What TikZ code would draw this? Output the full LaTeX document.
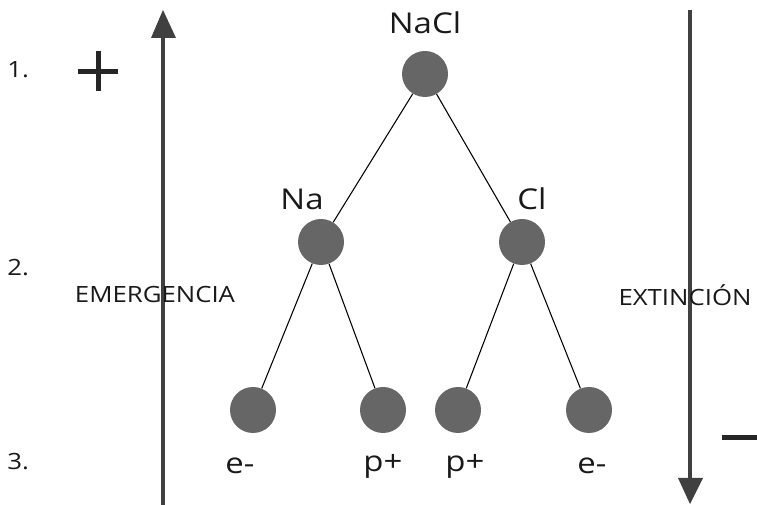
\documentclass[tikz,border=0pt]{standalone}
\usepackage{fontspec}
\setmainfont[FakeStretch=1.15]{Open Sans}
\begin{document}
\begin{tikzpicture}[x=0.75pt,y=-0.75pt,
  ball/.style={circle,fill=black!60,minimum size=34.5pt,inner sep=0pt},
  lbl/.style={font=\fontsize{16.8}{20}\selectfont,text=black!90,inner sep=0pt},
  big/.style={font=\fontsize{21.5}{25}\selectfont,text=black!90,inner sep=0pt},
  axis/.style={draw=black!75,line width=2.4pt},
  tip/.style={fill=black!75},
  edge/.style={draw=black,line width=0.8pt}]
\useasboundingbox (0,0) rectangle (757,505);
% axes
\coordinate (ub) at (163,505);
\coordinate (ut) at (163,30);
\draw[axis] (ub) -- (ut);
\fill[tip] (163,10) -- (176,38) -- (151,38) -- cycle;
\coordinate (dt) at (690,10);
\coordinate (db) at (690,485);
\draw[axis] (dt) -- (db);
\fill[tip] (690,504) -- (703,478) -- (678,478) -- cycle;
% plus / minus
\fill[black!85] (78,69) rectangle (118,74);
\fill[black!85] (95.5,51) rectangle (100.5,91);
\fill[black!85] (722,435) rectangle (757,440);
% numbers
\node[lbl,anchor=west] (n1) at (7,70) {1.};
\node[lbl,anchor=west] (n2) at (7,268) {2.};
\node[lbl,anchor=west] (n3) at (7,462) {3.};
% side labels
\node[lbl] (em) at (155,295) {EMERGENCIA};
\node[lbl] (ex) at (685,295) {EXTINCIÓN};
% balls
\node[ball] (nacl) at (425,74) {};
\node[ball] (na) at (321,242) {};
\node[ball] (cl) at (522,242) {};
\node[ball] (e1) at (253,410) {};
\node[ball] (p1) at (383,410) {};
\node[ball] (p2) at (458,410) {};
\node[ball] (e2) at (589,410) {};
% edges
\draw[edge] (nacl) -- (na);
\draw[edge] (nacl) -- (cl);
\draw[edge] (na) -- (e1);
\draw[edge] (na) -- (p1);
\draw[edge] (cl) -- (p2);
\draw[edge] (cl) -- (e2);
% labels
\node[big] (tnacl) at (425,23) {NaCl};
\node[big] (tna) at (302,199) {Na};
\node[big] (tcl) at (532,199) {Cl};
\node[big] (te1) at (240,466) {e-};
\node[big] (tp1) at (383,466) {p+};
\node[big] (tp2) at (465,466) {p+};
\node[big] (te2) at (592,466) {e-};
\end{tikzpicture}
\end{document}
